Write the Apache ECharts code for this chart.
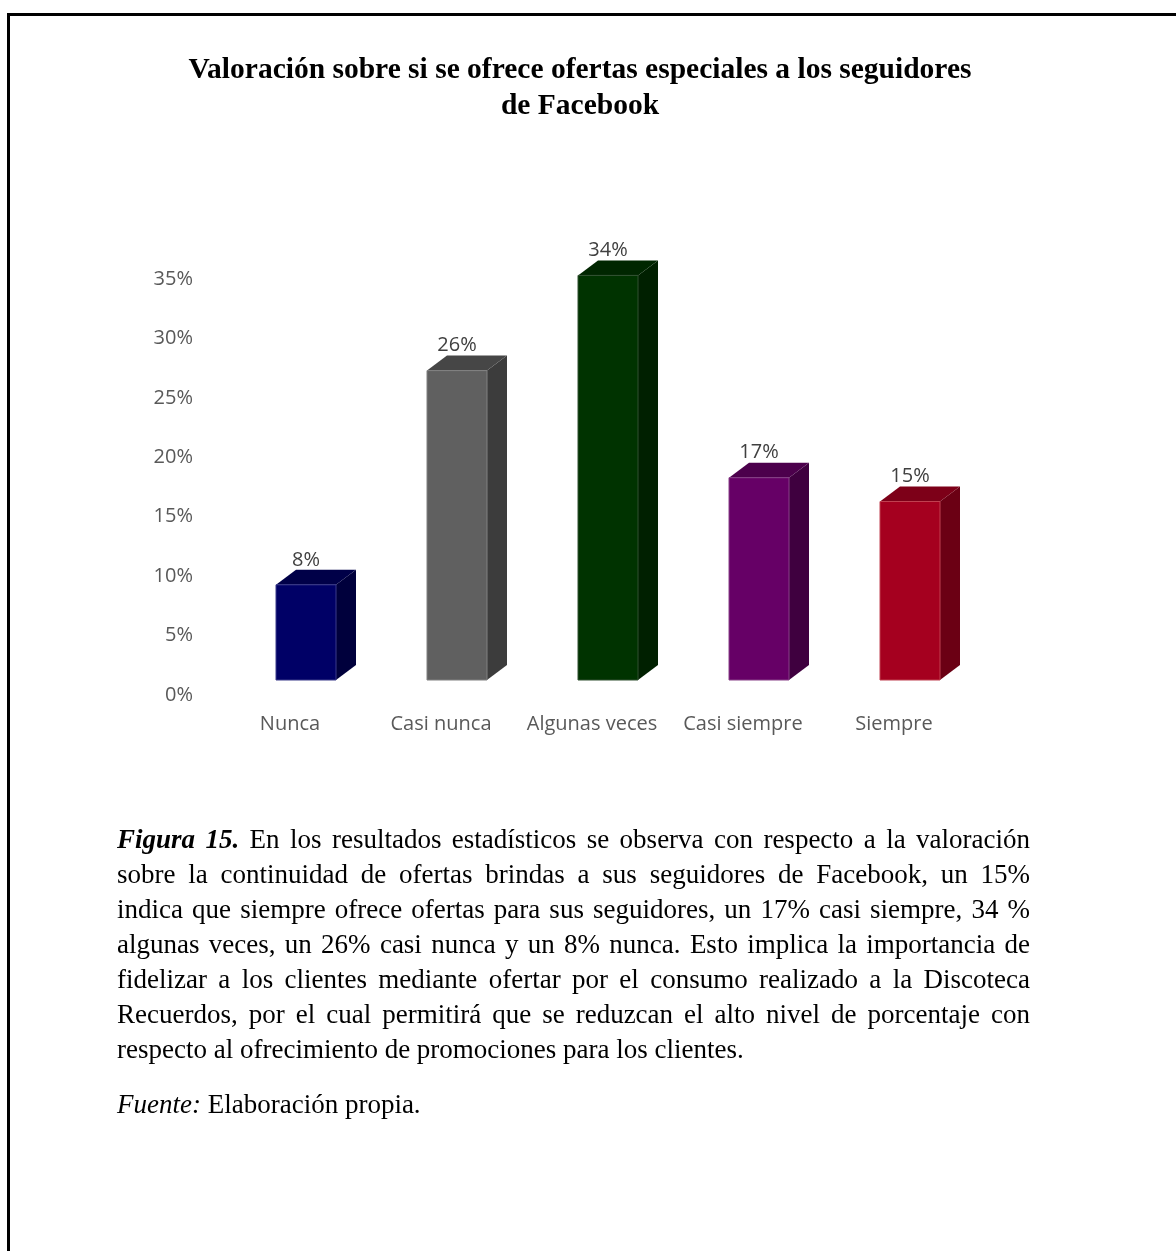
<!DOCTYPE html>
<html>
<head>
<meta charset="utf-8">
<script src="https://cdn.jsdelivr.net/npm/echarts@6/dist/echarts.min.js"></script>
<style>
  html, body { margin: 0; padding: 0; background: #fff; }
  #page { position: relative; width: 1176px; height: 1251px; overflow: hidden; }
  #frame { position: absolute; left: 7px; top: 13px; right: -10px; bottom: -10px;
           border-top: 3px solid #000; border-left: 3px solid #000; }
  #chart { position: absolute; left: 0; top: 0; width: 1176px; height: 1251px; }
  #caption { position: absolute; left: 117px; top: 822px; width: 913px;
             font-family: "Liberation Serif", "Times New Roman", serif; font-size: 27px;
             line-height: 35px; color: #000; }
  #caption .ln { text-align: justify; text-align-last: justify; white-space: nowrap; }
  #caption .ln.last { text-align: left; text-align-last: left; }
  #source { position: absolute; left: 117px; top: 1087px;
            font-family: "Liberation Serif", "Times New Roman", serif; font-size: 27px;
            line-height: 35px; color: #000; }
</style>
</head>
<body>
<div id="page">
  <div id="frame"></div>
  <div id="chart"></div>
  <div id="caption">
    <div class="ln"><b><i>Figura 15.</i></b> En los resultados estadísticos se observa con respecto a la valoración</div>
    <div class="ln">sobre la continuidad de ofertas brindas a sus seguidores de Facebook, un 15%</div>
    <div class="ln">indica que siempre ofrece ofertas para sus seguidores, un 17% casi siempre, 34 %</div>
    <div class="ln">algunas veces, un 26% casi nunca y un 8% nunca. Esto implica la importancia de</div>
    <div class="ln">fidelizar a los clientes mediante ofertar por el consumo realizado a la Discoteca</div>
    <div class="ln">Recuerdos, por el cual permitirá que se reduzcan el alto nivel de porcentaje con</div>
    <div class="ln last">respecto al ofrecimiento de promociones para los clientes.</div>
  </div>
  <div id="source"><i>Fuente:</i> Elaboración propia.</div>
</div>
<script>
// datos del gráfico
var categorias = ['Nunca', 'Casi nunca', 'Algunas veces', 'Casi siempre', 'Siempre'];
var porcentajes = [8, 26, 34, 17, 15];
var ticksY = [0, 5, 10, 15, 20, 25, 30, 35];

// colores: frente, lateral, tapa
var coloresFrente = ['#000066', '#606060', '#003300', '#660066', '#a5001f'];
var coloresLado = ['#00003c', '#3c3c3c', '#002000', '#3f003f', '#6b0014'];
var coloresTapa = ['#000048', '#464646', '#002600', '#4c004c', '#7d0018'];
var bordeFrente = ['#3a3a8a', '#808080', '#305030', '#884088', '#c04050'];

var chart = echarts.init(document.getElementById('chart'));

// barra con efecto 3D (frente + lateral + tapa)
function barra3d(params, api) {
  var i = params.dataIndex;
  var v = api.value(1);
  var base = api.coord([api.value(0), 0]);
  var tope = api.coord([api.value(0), v]);
  var w = 60, dx = 20, dy = 15;
  var x0 = base[0] - w / 2, x1 = base[0] + w / 2;
  var yb = base[1], yt = tope[1];
  return {
    type: 'group',
    children: [
      { type: 'polygon', shape: { points: [[x1, yt], [x1 + dx, yt - dy], [x1 + dx, yb - dy], [x1, yb]] },
        style: { fill: coloresLado[i] } },
      { type: 'polygon', shape: { points: [[x0, yt], [x0 + dx, yt - dy], [x1 + dx, yt - dy], [x1, yt]] },
        style: { fill: coloresTapa[i] } },
      { type: 'rect', shape: { x: x0, y: yt, width: w, height: yb - yt },
        style: { fill: coloresFrente[i], stroke: bordeFrente[i], lineWidth: 1 } },
      { type: 'text', style: { text: v + '%', x: base[0], y: yt - dy - 10, align: 'center', verticalAlign: 'middle',
        fontFamily: 'Open Sans', fontSize: 20, fill: '#404040' } }
    ]
  };
}

var option = {
  animation: false,
  title: {
    text: 'Valoración sobre si se ofrece ofertas especiales a los seguidores\nde Facebook',
    left: 575,
    textAlign: 'center',
    top: 47,
    textStyle: {
      fontFamily: 'Liberation Serif',
      fontWeight: 'bold',
      fontSize: 29.5,
      lineHeight: 36,
      color: '#000'
    }
  },
  grid: [
    { left: 230.5, right: 190.5, top: 263.5, bottom: 571 },
    { left: 201, right: 190.5, top: 279, bottom: 556 }
  ],
  xAxis: [
    {
      type: 'category',
      gridIndex: 0,
      data: categorias,
      axisLine: { show: false },
      axisTick: { show: false },
      axisLabel: {
        interval: 0,
        margin: 34,
        padding: [0, 32, 0, 0],
        fontFamily: 'Open Sans',
        fontSize: 20,
        color: '#595959'
      }
    },
    { type: 'category', gridIndex: 1, data: categorias, show: false }
  ],
  yAxis: [
    { type: 'value', gridIndex: 0, min: 0, max: 35, interval: 5, show: false },
    {
      type: 'value',
      gridIndex: 1,
      min: ticksY[0],
      max: ticksY[ticksY.length - 1],
      interval: 5,
      axisLine: { show: false },
      axisTick: { show: false },
      splitLine: { show: false },
      axisLabel: {
        margin: 8,
        fontFamily: 'Open Sans',
        fontSize: 20,
        color: '#595959',
        formatter: '{value}%'
      }
    }
  ],
  series: [{
    type: 'custom',
    xAxisIndex: 0,
    yAxisIndex: 0,
    renderItem: barra3d,
    data: categorias.map(function (c, i) { return [i, porcentajes[i]]; })
  }]
};

chart.setOption(option);
</script>
</body>
</html>
